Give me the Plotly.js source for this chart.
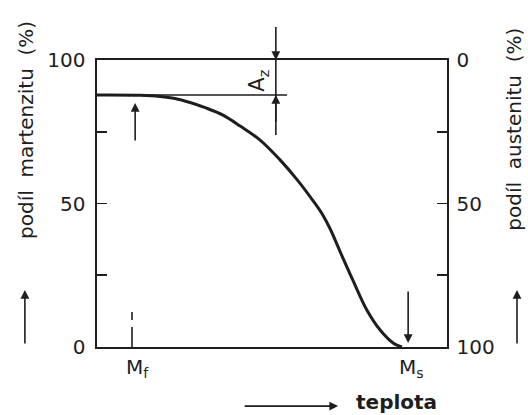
<!DOCTYPE html>
<html>
<head>
<meta charset="utf-8">
<script src="https://cdn.plot.ly/plotly-3.0.1.min.js"></script>
<style>html,body{margin:0;padding:0;background:#fff;}#chart{width:528px;height:415px;}</style>
</head>
<body>
<div id="chart"></div>
<script>
// Data
const temperature = [0, 12.3, 18, 22.3, 26.6, 30.9, 36, 40.9, 46.6, 52.3, 57.1, 61.7, 64.3, 66.6, 69.4, 73.1, 77.1, 80.9, 84.6, 87.1];
const martensite  = [87.8, 87.7, 87.3, 86.6, 85.2, 83.4, 80.8, 77.0, 72.1, 65.2, 58.4, 51.0, 46.4, 41.2, 33.4, 23.3, 12.9, 5.9, 1.4, 0];
const tickValues = [0, 25, 50, 75, 100];
const leftTickText = ['0', '', '50', '', '100'];
const rightTickText = ['0', '', '50', '', '100'];
const Mf = 10;          // martensite finish temperature (arbitrary units)
const Ms = 88.9;        // martensite start temperature
const plateau = 87.8;   // max martensite (100 - Az)
const AzX = 51.1;       // position of the Az dimension line

const ink = '#1e1e1e';
const font = 'DejaVu Sans, Roboto, sans-serif';
const NB = '\u00a0';

const traces = [
  {x: temperature, y: martensite, type: 'scatter', mode: 'lines',
   line: {color: ink, width: 3, shape: 'spline', smoothing: 1},
   hoverinfo: 'skip', showlegend: false},
  {x: [null], y: [null], yaxis: 'y2', type: 'scatter', mode: 'lines',
   hoverinfo: 'skip', showlegend: false}
];

const arrow = (x, y, ax, ay) => ({
  x: x, y: y, ax: ax, ay: ay, xref: 'x', yref: 'y', axref: 'x', ayref: 'y',
  text: '', showarrow: true, arrowhead: 2, arrowsize: 1.1, arrowwidth: 1.6, arrowcolor: ink
});
const paperArrow = (x, y, ax, ay) => ({
  x: x, y: y, ax: ax, ay: ay, xref: 'paper', yref: 'paper',
  text: '', showarrow: true, arrowhead: 2, arrowsize: 1.1, arrowwidth: 1.6, arrowcolor: ink
});
const label = (x, y, text, extra) => Object.assign({
  x: x, y: y, xref: 'paper', yref: 'paper', text: text, showarrow: false,
  xanchor: 'center', yanchor: 'middle', font: {family: font, size: 20, color: ink}
}, extra || {});

const layout = {
  width: 528, height: 415,
  margin: {l: 97, r: 81, t: 60, b: 68},
  paper_bgcolor: '#fff', plot_bgcolor: '#fff',
  showlegend: false,
  font: {family: font, color: ink, size: 20},
  xaxis: {range: [0, 100], showgrid: false, zeroline: false, showticklabels: false,
          ticks: '', showline: true, mirror: true, linecolor: ink, linewidth: 1.6, fixedrange: true},
  yaxis: {range: [0, 100], showgrid: false, zeroline: false, tickmode: 'array',
          tickvals: tickValues, ticktext: leftTickText, ticks: 'inside', ticklen: 10,
          tickwidth: 1.6, tickcolor: ink, showline: true, linecolor: ink, linewidth: 1.6,
          ticklabelstandoff: 6, tickfont: {family: font, size: 20, color: ink}, fixedrange: true},
  yaxis2: {range: [100, 0], overlaying: 'y', side: 'right', showgrid: false, zeroline: false,
           tickmode: 'array', tickvals: tickValues, ticktext: rightTickText, ticks: 'inside',
           ticklen: 10, tickwidth: 1.6, tickcolor: ink, showline: true, linecolor: ink,
           linewidth: 1.6, ticklabelstandoff: 4, tickfont: {family: font, size: 20, color: ink},
           fixedrange: true},
  shapes: [
    {type: 'line', xref: 'x', yref: 'y', x0: 0, x1: 54.3, y0: plateau, y1: plateau,
     line: {color: ink, width: 1.6}},
    {type: 'line', xref: 'x', yref: 'y', x0: AzX, x1: AzX, y0: 73.9, y1: 116.4,
     line: {color: ink, width: 1.6}},
    {type: 'line', xref: 'x', yref: 'y', x0: Mf, x1: Mf, y0: 0, y1: 7,
     line: {color: ink, width: 1.6}},
    {type: 'line', xref: 'x', yref: 'y', x0: Mf, x1: Mf, y0: 9.4, y1: 12.2,
     line: {color: ink, width: 1.6}}
  ],
  annotations: [
    arrow(AzX, 100, AzX, 112),
    arrow(AzX, plateau, AzX, 78),
    arrow(Mf + 0.9, 85, Mf + 0.9, 71.4),
    arrow(Ms, 1.4, Ms, 19.9),
    {x: 46, y: 92.8, xref: 'x', yref: 'y', text: 'A<sub>z</sub>', showarrow: false,
     textangle: -90, font: {family: font, size: 21, color: ink}},
    label(0.116, -0.022, 'M<sub>f</sub>', {yanchor: 'top'}),
    label(0.898, -0.022, 'M<sub>s</sub>', {yanchor: 'top'}),
    label(0.857, -0.192, 'teplota', {font: {family: font, size: 20, color: ink, weight: 'bold'}}),
    {x: 0.689, y: -0.206, xref: 'paper', yref: 'paper', ax: -95, ay: 0, text: '',
     showarrow: true, arrowhead: 2, arrowsize: 1.1, arrowwidth: 1.6, arrowcolor: ink},
    label(-0.203, 0.756, 'podíl' + NB + NB + 'martenzitu' + NB + NB + '(%)', {textangle: -90}),
    label(1.191, 0.76, 'podíl' + NB + NB + 'austenitu' + NB + NB + '(%)', {textangle: -90}),
    paperArrow(-0.206, 0.199, 0, 55),
    paperArrow(1.2, 0.199, 0, 55)
  ]
};

Plotly.newPlot('chart', traces, layout, {displayModeBar: false, staticPlot: true});
</script>
</body>
</html>
